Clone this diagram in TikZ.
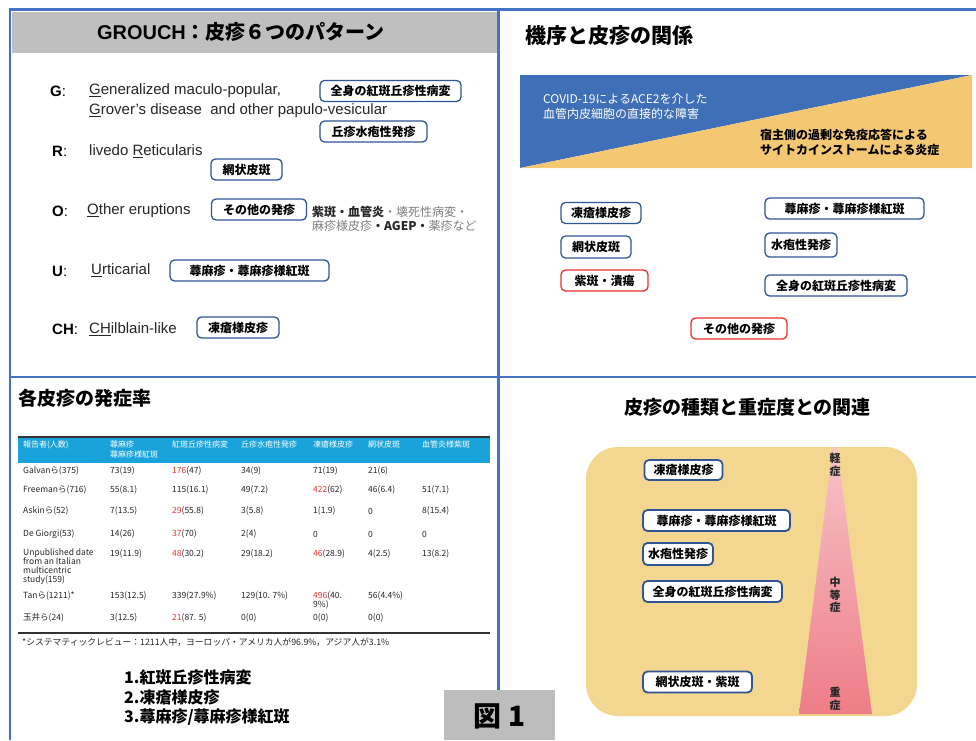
\documentclass[tikz,border=0pt]{standalone}
\usepackage{fontspec}
\setmainfont{Liberation Sans}
\newfontfamily\jp{Noto Sans CJK JP}
\definecolor{frameblue}{HTML}{4472C4}
\definecolor{boxblue}{HTML}{2F5597}
\definecolor{hdrgray}{HTML}{BFBFBF}
\definecolor{tblue}{HTML}{3F6FB6}
\definecolor{tyellow}{HTML}{F4C873}
\definecolor{tabcyan}{HTML}{1AA3DA}
\definecolor{redtxt}{HTML}{E8332F}
\definecolor{redbox}{HTML}{E8302C}
\definecolor{panelyel}{HTML}{F3D690}
\definecolor{pinktop}{HTML}{F7C3C9}
\definecolor{pinkbot}{HTML}{EE7D87}
\definecolor{figgray}{HTML}{BDBDBD}
\definecolor{graytxt}{HTML}{808080}
\newcommand{\rd}[1]{\textcolor{redtxt}{#1}}
\begin{document}
\begin{tikzpicture}[x=1pt,y=-1pt,
  frame/.style={draw=frameblue,line width=2.6pt},
  tlbox/.style={draw=boxblue,line width=1.3pt,rounded corners=4.5pt,inner sep=0pt,minimum height=21pt,font=\jp\bfseries\fontsize{12}{14}\selectfont,text=black},
  redbx/.style={tlbox,draw=redbox},
  brbox/.style={tlbox,fill=white,line width=1.8pt},
  eng/.style={anchor=west,inner sep=0pt,font=\fontsize{15}{18}\selectfont,text=black!85},
  letter/.style={anchor=west,inner sep=0pt,font=\fontsize{15}{18}\selectfont,text=black},
  ptitle/.style={inner sep=0pt,font=\jp\bfseries\fontsize{20}{24}\selectfont,text=black},
  cell/.style={anchor=west,inner sep=0pt,font=\jp\fontsize{8.5}{9}\selectfont,text=black!85,align=left},
  mcell/.style={cell,anchor=north west},
  hcell/.style={anchor=north west,inner sep=0pt,font=\jp\fontsize{8}{10}\selectfont,text=white,align=left},
  sev/.style={inner sep=0pt,font=\jp\bfseries\fontsize{11}{12.5}\selectfont,align=center,text=black!85},
  listtxt/.style={anchor=west,inner sep=0pt,font=\jp\bfseries\fontsize{16}{20}\selectfont,text=black}
]
\useasboundingbox (0,0) rectangle (976,740);
\fill[white] (0,0) rectangle (976,740);

% ---------- top-left panel ----------
\fill[hdrgray] (12,12) rectangle (497,53);
\node[ptitle] (t1) at (241,32) {{\rmfamily\bfseries GROUCH}：皮疹６つのパターン};

\node[letter] (lg) at (50,91) {\textbf{G}:};
\node[eng] (eg1) at (89,91) {\underline{G}eneralized maculo-popular,};
\node[eng] (eg2) at (89,111) {\underline{G}rover’s disease\ \ and other papulo-vesicular};
\node[tlbox,minimum width=141pt] (bg1) at (390.5,91) {全身の紅斑丘疹性病変};
\node[tlbox,minimum width=107pt] (bg2) at (373.5,131.5) {丘疹水疱性発疹};

\node[letter] (lr) at (52,151) {\textbf{R}:};
\node[eng] (er) at (89,151) {livedo \underline{R}eticularis};
\node[tlbox,minimum width=71pt] (br) at (246.5,169.5) {網状皮斑};

\node[letter] (lo) at (52,211) {\textbf{O}:};
\node[eng] (eo) at (87,211) {\underline{O}ther eruptions};
\node[tlbox,minimum width=95pt] (bo) at (259,209.5) {その他の発疹};
\node[anchor=west,inner sep=0pt,font=\jp\fontsize{12}{14.5}\selectfont,align=left,text=graytxt] (oth) at (312,219)
  {\textcolor{black!85}{\bfseries 紫斑・血管炎}・壊死性病変・\\麻疹様皮疹\textcolor{black!85}{\bfseries ・AGEP・}薬疹など};

\node[letter] (lu) at (52,271) {\textbf{U}:};
\node[eng] (eu) at (91,270) {\underline{U}rticarial};
\node[tlbox,minimum width=159pt] (bu) at (249.5,270.5) {蕁麻疹・蕁麻疹様紅斑};

\node[letter] (lc) at (52,329) {\textbf{CH}:};
\node[eng] (ec) at (89,329) {\underline{CH}ilblain-like};
\node[tlbox,minimum width=82pt] (bc) at (238,327.5) {凍瘡様皮疹};

% ---------- top-right panel ----------
\node[ptitle,anchor=west,font=\jp\bfseries\fontsize{21}{24}\selectfont] (t2) at (525,36) {機序と皮疹の関係};
\fill[tblue] (520,75) -- (972,75) -- (520,168) -- cycle;
\fill[tyellow] (972,75) -- (972,168) -- (520,168) -- cycle;
\node[anchor=west,inner sep=0pt,font=\jp\fontsize{12}{15}\selectfont,align=left,text=white] (covid) at (543,106.5)
  {COVID-19によるACE2を介した\\血管内皮細胞の直接的な障害};
\node[anchor=west,inner sep=0pt,font=\jp\bfseries\fontsize{12}{15}\selectfont,align=left,text=black] (host) at (760,142.5)
  {宿主側の過剰な免疫応答による\\サイトカインストームによる炎症};

\node[tlbox,minimum width=80pt] (m1) at (601,213) {凍瘡様皮疹};
\node[tlbox,minimum width=70pt,minimum height=22pt] (m2) at (596,247) {網状皮斑};
\node[redbx,minimum width=87pt] (m3) at (604.5,280.5) {紫斑・潰瘍};
\node[tlbox,minimum width=159pt] (m4) at (844.5,208.5) {蕁麻疹・蕁麻疹様紅斑};
\node[tlbox,minimum width=72pt,minimum height=24pt] (m5) at (801,245) {水疱性発疹};
\node[tlbox,minimum width=142pt] (m6) at (836,285.5) {全身の紅斑丘疹性病変};
\node[redbx,minimum width=96pt] (m7) at (739,328.5) {その他の発疹};

% ---------- bottom-left panel ----------
\node[ptitle,anchor=west,font=\jp\bfseries\fontsize{19}{22}\selectfont] (t3) at (18,398) {各皮疹の発症率};
\fill[tabcyan] (18,437) rectangle (490,463);
\draw[line width=2pt,black!80] (18,437) -- (490,437);
\node[hcell] (h1) at (23,441) {報告者(人数)};
\node[hcell] (h2) at (110,441) {蕁麻疹\\蕁麻疹様紅斑};
\node[hcell] (h3) at (172,441) {紅斑丘疹性病変};
\node[hcell] (h4) at (241,441) {丘疹水疱性発疹};
\node[hcell] (h5) at (313,441) {凍瘡様皮疹};
\node[hcell] (h6) at (368,441) {網状皮斑};
\node[hcell] (h7) at (422,441) {血管炎様紫斑};

\node[cell] (a1) at (23,471) {Galvanら(375)};
\node[cell] (a2) at (110,471) {73(19)};
\node[cell] (a3) at (172,471) {\rd{176}(47)};
\node[cell] (a4) at (241,471) {34(9)};
\node[cell] (a5) at (313,471) {71(19)};
\node[cell] (a6) at (368,471) {21(6)};

\node[cell] (b1) at (23,490) {Freemanら(716)};
\node[cell] (b2) at (110,490) {55(8.1)};
\node[cell] (b3) at (172,490) {115(16.1)};
\node[cell] (b4) at (241,490) {49(7.2)};
\node[cell] (b5) at (313,490) {\rd{422}(62)};
\node[cell] (b6) at (368,490) {46(6.4)};
\node[cell] (b7) at (422,490) {51(7.1)};

\node[cell] (c1) at (23,511) {Askinら(52)};
\node[cell] (c2) at (110,511) {7(13.5)};
\node[cell] (c3) at (172,511) {\rd{29}(55.8)};
\node[cell] (c4) at (241,511) {3(5.8)};
\node[cell] (c5) at (313,511) {1(1.9)};
\node[cell] (c6) at (368,511) {0};
\node[cell] (c7) at (422,511) {8(15.4)};

\node[cell] (d1) at (23,534) {De Giorgi(53)};
\node[cell] (d2) at (110,534) {14(26)};
\node[cell] (d3) at (172,534) {\rd{37}(70)};
\node[cell] (d4) at (241,534) {2(4)};
\node[cell] (d5) at (313,534) {0};
\node[cell] (d6) at (368,534) {0};
\node[cell] (d7) at (422,534) {0};

\node[mcell] (e1) at (23,549) {Unpublished date\\from an Italian\\multicentric\\study(159)};
\node[cell] (e2) at (110,554) {19(11.9)};
\node[cell] (e3) at (172,554) {\rd{48}(30.2)};
\node[cell] (e4) at (241,554) {29(18.2)};
\node[cell] (e5) at (313,554) {\rd{46}(28.9)};
\node[cell] (e6) at (368,554) {4(2.5)};
\node[cell] (e7) at (422,554) {13(8.2)};

\node[cell] (f1) at (23,596) {Tanら(1211)*};
\node[cell] (f2) at (110,596) {153(12.5)};
\node[cell] (f3) at (172,596) {339(27.9\%)};
\node[cell] (f4) at (241,596) {129(10. 7\%)};
\node[mcell] (f5) at (313,591) {\rd{496}(40.\\9\%)};
\node[cell] (f6) at (368,596) {56(4.4\%)};

\node[cell] (g1) at (23,618) {玉井ら(24)};
\node[cell] (g2) at (110,618) {3(12.5)};
\node[cell] (g3) at (172,618) {\rd{21}(87. 5)};
\node[cell] (g4) at (241,618) {0(0)};
\node[cell] (g5) at (313,618) {0(0)};
\node[cell] (g6) at (368,618) {0(0)};

\draw[line width=1.6pt,black!80] (18,633) -- (490,633);
\node[anchor=west,inner sep=0pt,font=\jp\fontsize{8.8}{10}\selectfont,text=black!85] (fn) at (22,642)
  {*システマティックレビュー：1211人中，ヨーロッパ・アメリカ人が96.9\%，アジア人が3.1\%};

\node[listtxt] (l1) at (124,677) {1.紅斑丘疹性病変};
\node[listtxt] (l2) at (124,697) {2.凍瘡様皮疹};
\node[listtxt] (l3) at (124,717) {3.蕁麻疹/蕁麻疹様紅斑};

% ---------- bottom-right panel ----------
\node[ptitle,font=\jp\bfseries\fontsize{19}{22}\selectfont] (t4) at (747.5,407) {皮疹の種類と重症度との関連};
\fill[panelyel,rounded corners=32pt] (586,447) rectangle (917,716);
\shade[top color=pinktop,bottom color=pinkbot] (833,447) -- (837,447) -- (872,714) -- (799,714) -- cycle;
\node[sev] (s1) at (835,465) {軽\\症};
\node[sev] (s2) at (835,595) {中\\等\\症};
\node[sev] (s3) at (835,699) {重\\症};

\node[brbox,minimum width=78pt,minimum height=20pt] (r1) at (683.5,470) {凍瘡様皮疹};
\node[brbox,minimum width=147pt] (r2) at (716.5,520.5) {蕁麻疹・蕁麻疹様紅斑};
\node[brbox,minimum width=70pt,minimum height=22pt] (r3) at (678,554) {水疱性発疹};
\node[brbox,minimum width=139pt] (r4) at (712.5,591.5) {全身の紅斑丘疹性病変};
\node[brbox,minimum width=109pt] (r5) at (697.5,682) {網状皮斑・紫斑};

% ---------- frame lines ----------
\draw[frame] (8.7,9.5) -- (976,9.5);
\draw[frame] (10,9.5) -- (10,740);
\draw[frame] (498.5,9.5) -- (498.5,740);
\draw[frame] (10,377) -- (976,377);

% ---------- figure label ----------
\fill[figgray] (444,690) rectangle (555,740);
\node[inner sep=0pt,font=\jp\bfseries\fontsize{28}{30}\selectfont,text=black] (fig) at (499.5,716) {図 1};
\end{tikzpicture}
\end{document}
